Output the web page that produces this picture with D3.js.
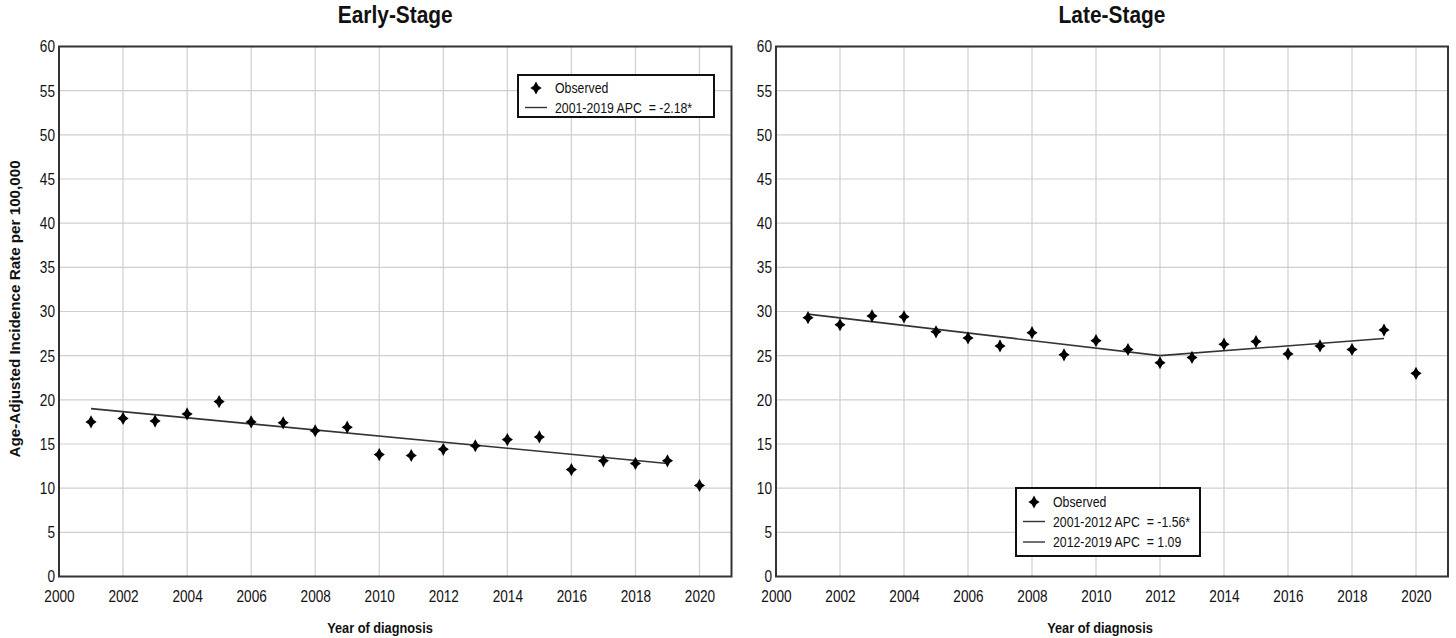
<!DOCTYPE html>
<html>
<head>
<meta charset="utf-8">
<script src="https://cdn.jsdelivr.net/npm/d3@7"></script>
<style>
  html, body { margin: 0; padding: 0; background: #fff; }
  svg { display: block; }
  text { font-family: "Liberation Sans", Arial, sans-serif; fill: #111; white-space: pre; }
</style>
</head>
<body>
<svg id="chart" width="1456" height="638"></svg>
<script>
// Observed age-adjusted incidence rates per 100,000, by year of diagnosis
const years = [2001, 2002, 2003, 2004, 2005, 2006, 2007, 2008, 2009, 2010,
               2011, 2012, 2013, 2014, 2015, 2016, 2017, 2018, 2019, 2020];
const earlyObserved = [17.5, 17.9, 17.6, 18.4, 19.8, 17.5, 17.4, 16.5, 16.9, 13.8,
                       13.7, 14.4, 14.8, 15.5, 15.8, 12.1, 13.1, 12.8, 13.1, 10.3];
const lateObserved = [29.3, 28.5, 29.5, 29.4, 27.7, 27.0, 26.1, 27.6, 25.1, 26.7,
                      25.7, 24.2, 24.8, 26.3, 26.6, 25.2, 26.1, 25.7, 27.9, 23.0];

// Joinpoint fitted trend segments (year, modelled rate)
const earlyTrendYears = [2001, 2019];
const earlyTrendValues = [19.0, 12.8];
const lateTrendYears = [2001, 2012, 2019];
const lateTrendValues = [29.7, 25.0, 26.95];

// Legend entries
const earlyLegend = ["2001-2019 APC  = -2.18*"];
const lateLegend = ["2001-2012 APC  = -1.56*", "2012-2019 APC  = 1.09"];

// Axis ticks
const xTicks = [2000, 2002, 2004, 2006, 2008, 2010, 2012, 2014, 2016, 2018, 2020];
const yTicks = [0, 5, 10, 15, 20, 25, 30, 35, 40, 45, 50, 55, 60];

const svg = d3.select("#chart");

// condense text horizontally (narrow face look)
function condense(sel, factor) {
  sel.each(function () {
    const w = this.getComputedTextLength();
    if (w > 0) {
      d3.select(this)
        .attr("textLength", w * factor)
        .attr("lengthAdjust", "spacingAndGlyphs");
    }
  });
}

// four-pointed star marker
function starPath(rx, ry, inner) {
  const p = d3.path();
  p.moveTo(0, -ry);
  p.lineTo(inner, -inner);
  p.lineTo(rx, 0);
  p.lineTo(inner, inner);
  p.lineTo(0, ry);
  p.lineTo(-inner, inner);
  p.lineTo(-rx, 0);
  p.lineTo(-inner, -inner);
  p.closePath();
  return p.toString();
}
const marker = starPath(5.6, 6.6, 2.3);

function panel(opts) {
  const x = d3.scaleLinear().domain([2000, 2021]).range([opts.left, opts.right]);
  const y = d3.scaleLinear().domain([0, 60]).range([576.5, 46.5]);
  const g = svg.append("g");

  // grid
  g.append("g").selectAll("line")
    .data(xTicks.filter(d => d > 2000))
    .join("line")
    .attr("x1", d => x(d)).attr("x2", d => x(d))
    .attr("y1", y(60)).attr("y2", y(0))
    .attr("stroke", "#cfcfcf").attr("stroke-width", 1.2);
  g.append("g").selectAll("line")
    .data(yTicks.filter(d => d > 0 && d < 60))
    .join("line")
    .attr("x1", x(2000)).attr("x2", x(2021))
    .attr("y1", d => y(d)).attr("y2", d => y(d))
    .attr("stroke", "#cfcfcf").attr("stroke-width", 1.2);

  // frame
  g.append("rect")
    .attr("x", x(2000)).attr("y", y(60))
    .attr("width", x(2021) - x(2000)).attr("height", y(0) - y(60))
    .attr("fill", "none").attr("stroke", "#333").attr("stroke-width", 2);

  // axes (labels only; the frame carries the lines)
  const xAxis = d3.axisBottom(x).tickValues(xTicks).tickFormat(d3.format("d")).tickSize(0).tickPadding(13);
  g.append("g").attr("transform", `translate(0,${y(0)})`).call(xAxis)
    .call(a => a.select(".domain").remove())
    .selectAll("text").attr("font-size", 17).attr("fill", "#111")
    .attr("font-family", "'Liberation Sans',Arial,sans-serif")
    .call(condense, 0.8);
  const yAxis = d3.axisLeft(y).tickValues(yTicks).tickSize(0).tickPadding(4);
  g.append("g").attr("transform", `translate(${x(2000)},0)`).call(yAxis)
    .call(a => a.select(".domain").remove())
    .selectAll("text").attr("font-size", 17).attr("fill", "#111")
    .attr("font-family", "'Liberation Sans',Arial,sans-serif")
    .call(condense, 0.8);

  // fitted trend
  const line = d3.line().x(d => x(d[0])).y(d => y(d[1]));
  g.append("path")
    .datum(opts.trendYears.map((t, i) => [t, opts.trendValues[i]]))
    .attr("d", line)
    .attr("fill", "none").attr("stroke", "#333").attr("stroke-width", 1.6);

  // observed points
  g.append("g").selectAll("path")
    .data(years.map((t, i) => [t, opts.observed[i]]))
    .join("path")
    .attr("d", marker)
    .attr("transform", d => `translate(${x(d[0])},${y(d[1])})`)
    .attr("fill", "#000");

  // title
  g.append("text")
    .attr("x", (x(2000) + x(2021)) / 2).attr("y", 23)
    .attr("text-anchor", "middle")
    .attr("font-size", 24).attr("font-weight", "bold")
    .text(opts.title)
    .call(condense, 0.87);

  // x-axis title
  g.append("text")
    .attr("x", opts.xTitleX).attr("y", 633)
    .attr("text-anchor", "middle")
    .attr("font-size", 14.5).attr("font-weight", "bold")
    .text("Year of diagnosis")
    .call(condense, 0.88);

  // legend
  const lg = g.append("g").attr("transform", `translate(${opts.legend.x},${opts.legend.y})`);
  const rowH = 20.5;
  lg.append("rect")
    .attr("x", 0).attr("y", 0)
    .attr("width", opts.legend.w).attr("height", opts.legend.h)
    .attr("fill", "#fff").attr("stroke", "#111").attr("stroke-width", 2);
  lg.append("path").attr("d", marker)
    .attr("transform", `translate(18,${opts.legend.firstRow})`).attr("fill", "#000");
  lg.append("text").attr("x", 37).attr("y", opts.legend.firstRow).attr("dy", "0.35em")
    .attr("font-size", 15).text("Observed")
    .call(condense, 0.82);
  opts.legendLabels.forEach((lab, i) => {
    const ry = opts.legend.firstRow + rowH * (i + 1) - 1;
    lg.append("line").attr("x1", 7).attr("x2", 29).attr("y1", ry).attr("y2", ry)
      .attr("stroke", "#333").attr("stroke-width", 1.4);
    lg.append("text").attr("x", 37).attr("y", ry).attr("dy", "0.35em")
      .attr("font-size", 15).attr("xml:space", "preserve").text(lab)
      .call(condense, 0.82);
  });
}

panel({
  left: 59, right: 731.5, title: "Early-Stage",
  observed: earlyObserved, trendYears: earlyTrendYears, trendValues: earlyTrendValues,
  legendLabels: earlyLegend, xTitleX: 380,
  legend: { x: 518, y: 75, w: 196, h: 42, firstRow: 13 }
});
panel({
  left: 776, right: 1448, title: "Late-Stage",
  observed: lateObserved, trendYears: lateTrendYears, trendValues: lateTrendValues,
  legendLabels: lateLegend, xTitleX: 1100,
  legend: { x: 1016, y: 488, w: 184, h: 68, firstRow: 14 }
});

// shared y-axis title
svg.append("text")
  .attr("transform", "translate(20,309) rotate(-90)")
  .attr("text-anchor", "middle")
  .attr("font-size", 15.5).attr("font-weight", "bold")
  .text("Age-Adjusted Incidence Rate per 100,000")
  .call(condense, 0.98);
</script>
</body>
</html>
